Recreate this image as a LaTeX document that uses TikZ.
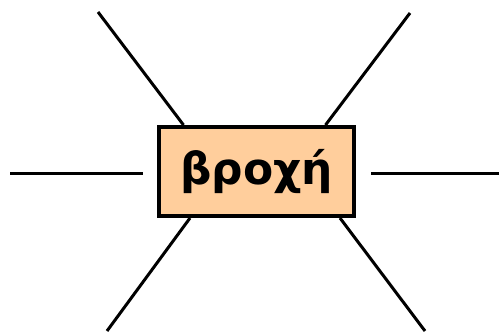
\documentclass[tikz,border=0pt]{standalone}
\usepackage{fontspec}
\setmainfont{DejaVu Sans}
\usepackage{tikz}
\usetikzlibrary{calc}
\definecolor{boxfill}{RGB}{255,206,156}
\tikzset{word/.style = {shape=rectangle,draw,fill=boxfill,line width=0.08cm,minimum width=3.9cm,minimum height=1.78cm,inner sep=0pt,font=\bfseries\fontsize{25}{30}\selectfont}}
\tikzset{ray/.style = {line width=0.06cm}}

\begin{document}
\begin{tikzpicture}[x=0.02cm,y=-0.02cm]
                    \useasboundingbox (0,0) rectangle (499,331);
                    \node[word] (rain) at (256.5,171.5) {βροχή};

                    \coordinate (ul) at (98,12);
                    \coordinate (ur) at (410,13);
                    \coordinate (ll) at (107,331);
                    \coordinate (lr) at (425,331);
                    \coordinate (l1) at (10,173);
                    \coordinate (l2) at (143,173);
                    \coordinate (r1) at (371,173);
                    \coordinate (r2) at (499,173);

                    \draw[ray] (ul) -- ([xshift=-1.46cm]rain.north);
                    \draw[ray] (ur) -- ([xshift=1.38cm]rain.north);
                    \draw[ray] (ll) -- ([xshift=-1.33cm]rain.south);
                    \draw[ray] (lr) -- ([xshift=1.67cm]rain.south);
                    \draw[ray] (l1) -- (l2);
                    \draw[ray] (r1) -- (r2);
                \end{tikzpicture}
\end{document}
